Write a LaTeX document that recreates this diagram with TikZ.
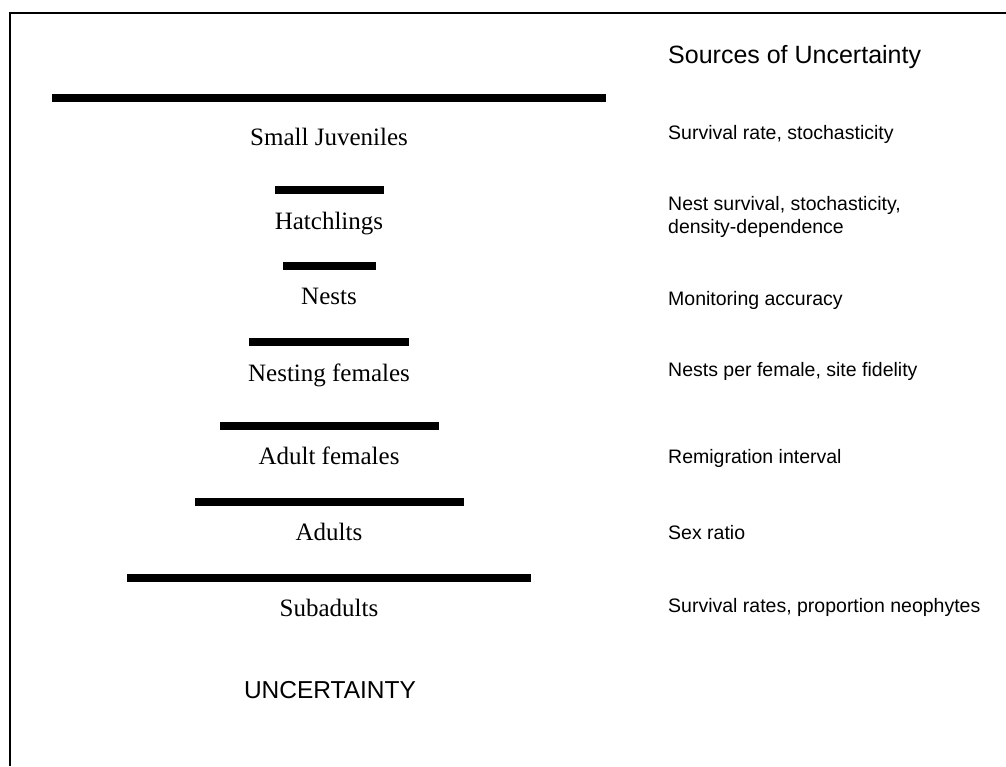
\documentclass[tikz,border=0pt]{standalone}
\usepackage{fontspec}
\setmainfont{Liberation Serif}
\newfontfamily\arialfont{Liberation Sans}

\begin{document}
\begin{tikzpicture}[x=1pt, y=-1pt,
  every node/.style={inner sep=0pt},
  stage/.style={anchor=base, font=\fontsize{25}{30}\selectfont},
  source/.style={anchor=base west, font=\arialfont\fontsize{19.5}{23}\selectfont},
  bar/.style={line width=8pt}]
\useasboundingbox (0,0) rectangle (1006,766);
% frame
\draw[line width=2pt] (10,766) -- (10,13) -- (1006,13);

% heading
\node[source, font=\arialfont\fontsize{25}{30}\selectfont] (head) at (668,63) {Sources of Uncertainty};

% small juveniles
\draw[bar] (52,98) -- (606,98);
\node[stage] (SJ) at (329,145) {Small Juveniles};
\node[source] (SJsrc) at (668,139) {Survival rate, stochasticity};

% hatchlings
\draw[bar] (275,190) -- (384,190);
\node[stage] (H) at (329,229) {Hatchlings};
\node[source] (Hsrc) at (668,210) {Nest survival, stochasticity,};
\node[source] (Hsrc2) at (668,233) {density-dependence};

% nests
\draw[bar] (283,266) -- (376,266);
\node[stage] (N) at (329,304) {Nests};
\node[source] (Nsrc) at (668,305) {Monitoring accuracy};

% nesting females
\draw[bar] (249,342) -- (409,342);
\node[stage] (NF) at (329,381) {Nesting females};
\node[source] (NFsrc) at (668,376) {Nests per female, site fidelity};

% adult females
\draw[bar] (220,426) -- (439,426);
\node[stage] (AF) at (329,464) {Adult females};
\node[source] (AFsrc) at (668,463) {Remigration interval};

% adults
\draw[bar] (195,502) -- (464,502);
\node[stage] (A) at (329,540) {Adults};
\node[source] (Asrc) at (668,539) {Sex ratio};

% subadults
\draw[bar] (127,578) -- (531,578);
\node[stage] (S) at (329,616) {Subadults};
\node[source] (Ssrc) at (668,612) {Survival rates, proportion neophytes};

% bottom label
\node[stage, font=\arialfont\fontsize{24.5}{30}\selectfont] (U) at (330,698) {UNCERTAINTY};
\end{tikzpicture}
\end{document}
